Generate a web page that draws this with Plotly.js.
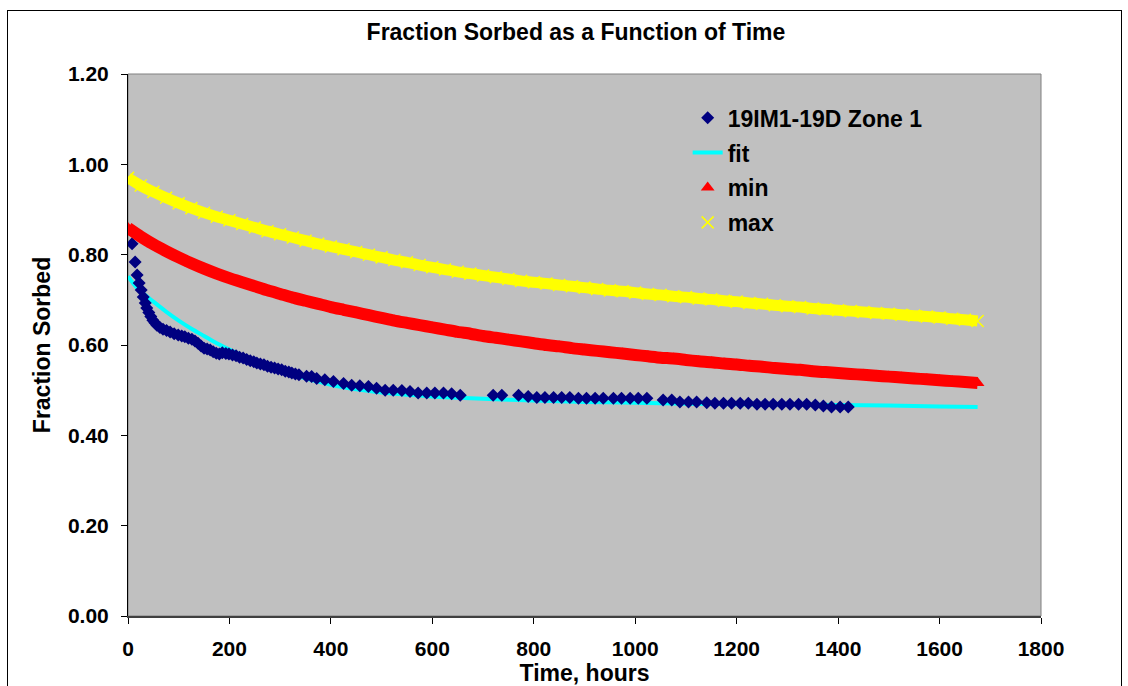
<!DOCTYPE html>
<html>
<head>
<meta charset="utf-8">
<script src="https://cdn.plot.ly/plotly-3.0.1.min.js"></script>
<style>
  html, body { margin: 0; padding: 0; background: #ffffff; }
  #chart { width: 1128px; height: 686px; }
  #frame { position: absolute; left: 7px; top: 10px; width: 1113px; height: 690px; border: 1px solid #000; pointer-events: none; }
</style>
</head>
<body>
<div id="chart"></div>
<div id="frame"></div>
<script>
// ---- data ----
const seriesNames = ["19IM1-19D Zone 1", "fit", "min", "max"];

const dataHours = [8, 14, 18, 22, 26, 30, 34, 37, 41, 45, 49, 53, 57, 63, 69, 76, 83, 91, 99, 106,
  112, 119, 126, 132, 138, 144, 150, 156, 162, 168, 174, 180, 186, 193, 199, 206, 213, 220, 227, 234,
  241, 248, 254, 261, 268, 275, 282, 289, 296, 303, 310, 317, 323, 330, 337, 352, 362, 372, 388, 405,
  425, 441, 457, 474, 490, 507, 523, 540, 556, 572, 589, 605, 622, 638, 655, 720, 737, 770, 789, 806,
  822, 839, 855, 871, 888, 904, 921, 937, 957, 973, 990, 1006, 1023, 1055, 1072, 1088, 1105, 1121, 1141, 1157,
  1174, 1190, 1207, 1223, 1240, 1256, 1272, 1289, 1305, 1322, 1338, 1355, 1371, 1387, 1404, 1420];
const dataFraction = [0.824, 0.784, 0.755, 0.737, 0.722, 0.706, 0.693, 0.682, 0.672, 0.663, 0.655, 0.649, 0.644, 0.639, 0.635, 0.632, 0.629, 0.625, 0.622, 0.620,
  0.618, 0.615, 0.613, 0.609, 0.604, 0.598, 0.593, 0.591, 0.589, 0.585, 0.582, 0.580, 0.583, 0.581, 0.580, 0.578, 0.576, 0.573, 0.571, 0.568,
  0.565, 0.563, 0.560, 0.558, 0.556, 0.553, 0.551, 0.549, 0.547, 0.545, 0.542, 0.540, 0.538, 0.536, 0.534, 0.531, 0.530, 0.526, 0.523, 0.519,
  0.515, 0.511, 0.510, 0.508, 0.504, 0.500, 0.500, 0.499, 0.497, 0.494, 0.494, 0.494, 0.494, 0.492, 0.489, 0.489, 0.489, 0.489, 0.486, 0.484,
  0.484, 0.484, 0.484, 0.484, 0.482, 0.482, 0.482, 0.482, 0.482, 0.482, 0.482, 0.482, 0.482, 0.478, 0.478, 0.474, 0.474, 0.474, 0.472, 0.471,
  0.471, 0.471, 0.471, 0.471, 0.469, 0.469, 0.469, 0.469, 0.469, 0.469, 0.469, 0.467, 0.465, 0.463, 0.463, 0.463];

const fitHours = [0, 10, 20, 30, 40, 50, 75, 100, 125, 150, 175, 200, 250, 300, 350, 400, 450, 500, 550, 600,
  650, 700, 800, 900, 1000, 1100, 1200, 1300, 1400, 1500, 1600, 1675];
const fitFraction = [0.752, 0.737, 0.724, 0.714, 0.705, 0.696, 0.674, 0.654, 0.636, 0.620, 0.604, 0.590, 0.564, 0.543, 0.526, 0.512, 0.502, 0.495, 0.490, 0.486,
  0.483, 0.481, 0.477, 0.474, 0.472, 0.470, 0.469, 0.468, 0.467, 0.466, 0.464, 0.463];

const bandHours = [0, 25, 50, 75, 100, 125, 150, 175, 200, 225, 250, 275, 300, 325, 350, 375, 400, 425, 450, 475,
  500, 525, 550, 575, 600, 625, 650, 675, 700, 725, 750, 775, 800, 825, 850, 875, 900, 925, 950, 975,
  1000, 1025, 1050, 1075, 1100, 1125, 1150, 1175, 1200, 1225, 1250, 1275, 1300, 1325, 1350, 1375, 1400, 1425, 1450, 1475,
  1500, 1525, 1550, 1575, 1600, 1625, 1650, 1675];
const minFraction = [0.859, 0.840, 0.823, 0.808, 0.794, 0.781, 0.769, 0.758, 0.748, 0.739, 0.730, 0.721, 0.713, 0.705, 0.698, 0.691, 0.684, 0.678, 0.672, 0.666,
  0.660, 0.654, 0.649, 0.644, 0.639, 0.634, 0.629, 0.625, 0.620, 0.616, 0.612, 0.608, 0.604, 0.600, 0.597, 0.593, 0.590, 0.587, 0.584, 0.581,
  0.578, 0.575, 0.572, 0.570, 0.567, 0.564, 0.562, 0.559, 0.557, 0.554, 0.552, 0.549, 0.547, 0.545, 0.542, 0.540, 0.538, 0.536, 0.534, 0.532,
  0.530, 0.528, 0.526, 0.524, 0.522, 0.520, 0.518, 0.516];
const maxFraction = [0.970, 0.953, 0.939, 0.926, 0.914, 0.903, 0.893, 0.884, 0.876, 0.868, 0.860, 0.852, 0.845, 0.838, 0.831, 0.824, 0.818, 0.812, 0.806, 0.800,
  0.794, 0.788, 0.783, 0.777, 0.772, 0.767, 0.762, 0.758, 0.754, 0.750, 0.746, 0.742, 0.739, 0.736, 0.733, 0.730, 0.727, 0.724, 0.721, 0.719,
  0.716, 0.713, 0.711, 0.708, 0.706, 0.703, 0.701, 0.698, 0.696, 0.693, 0.691, 0.688, 0.686, 0.684, 0.681, 0.679, 0.677, 0.675, 0.673, 0.671,
  0.669, 0.667, 0.665, 0.663, 0.661, 0.658, 0.656, 0.653];

const xTickValues = [0, 200, 400, 600, 800, 1000, 1200, 1400, 1600, 1800];
const yTickValues = [0, 0.2, 0.4, 0.6, 0.8, 1.0, 1.2];
const yTickLabels = ["0.00", "0.20", "0.40", "0.60", "0.80", "1.00", "1.20"];

// ---- chart ----
const FONT = "Liberation Sans, Arial, Helvetica, sans-serif";
const traces = [
  { type: "scatter", mode: "lines", name: seriesNames[1], x: fitHours, y: fitFraction,
    line: { color: "#00FFFF", width: 4, shape: "spline", smoothing: 0.6 }, legendgroup: "g2", legendrank: 2 },
  { type: "scatter", mode: "markers", name: seriesNames[0], x: dataHours, y: dataFraction,
    marker: { symbol: "diamond", color: "#000080", size: 10 }, legendgroup: "g1", legendrank: 1 },
  { type: "scatter", mode: "lines", name: seriesNames[2], x: bandHours, y: minFraction,
    line: { color: "#FF0000", width: 12, shape: "spline", smoothing: 0.6 }, showlegend: false, legendgroup: "g3", hoverinfo: "skip" },
  { type: "scatter", mode: "markers", name: seriesNames[2], x: bandHours, y: minFraction,
    marker: { symbol: "triangle-up", color: "#FF0000", size: 12 }, legendgroup: "g3", legendrank: 3 },
  { type: "scatter", mode: "lines", name: seriesNames[3], x: bandHours, y: maxFraction,
    line: { color: "#FFFF00", width: 11, shape: "spline", smoothing: 0.6 }, showlegend: false, legendgroup: "g4", hoverinfo: "skip" },
  { type: "scatter", mode: "markers", name: seriesNames[3], x: bandHours, y: maxFraction,
    marker: { symbol: "x-thin", color: "#FFFF00", size: 12, line: { color: "#FFFF00", width: 1.5 } },
    legendgroup: "g4", legendrank: 4 }
];

const layout = {
  width: 1128, height: 686,
  margin: { l: 128, r: 87, t: 74, b: 70, pad: 0 },
  paper_bgcolor: "#FFFFFF",
  plot_bgcolor: "#C0C0C0",
  font: { family: FONT, color: "#000000", size: 21, weight: "bold" },
  title: { text: "Fraction Sorbed as a Function of Time", font: { family: FONT, size: 23, weight: "bold", color: "#000" },
           x: 0.5106, xref: "container", xanchor: "center", y: 0.953, yref: "container", yanchor: "middle" },
  xaxis: {
    range: [0, 1800], tickvals: xTickValues, ticks: "outside", ticklen: 6, tickcolor: "#000", tickwidth: 1,
    showgrid: false, zeroline: false, showline: true, linecolor: "#404040", linewidth: 2,
    tickfont: { family: FONT, size: 21, weight: "bold" }, ticklabelstandoff: 7,
    title: { text: "Time, hours", font: { family: FONT, size: 23, weight: "bold" }, standoff: 0 }
  },
  yaxis: {
    range: [0, 1.2], tickvals: yTickValues, ticktext: yTickLabels, ticks: "outside", ticklen: 6, tickcolor: "#000", tickwidth: 1,
    showgrid: false, zeroline: false, showline: true, linecolor: "#000", linewidth: 1,
    tickfont: { family: FONT, size: 21, weight: "bold" }, ticklabelstandoff: 8,
    title: { text: "Fraction Sorbed", font: { family: FONT, size: 23, weight: "bold" }, standoff: 10 }
  },
  legend: {
    x: 0.613, xanchor: "left", y: 0.959, yanchor: "top", bgcolor: "rgba(0,0,0,0)", borderwidth: 0,
    font: { family: FONT, size: 23, weight: "bold", color: "#000" }, tracegroupgap: 2, itemwidth: 30
  },
  shapes: [
    { type: "rect", xref: "paper", yref: "paper", x0: 0, x1: 1, y0: 0, y1: 1,
      line: { color: "#808080", width: 1 }, fillcolor: "rgba(0,0,0,0)", layer: "below" }
  ],
  showlegend: true
};

Plotly.newPlot("chart", traces, layout, { displayModeBar: false, staticPlot: true });
</script>
</body>
</html>
